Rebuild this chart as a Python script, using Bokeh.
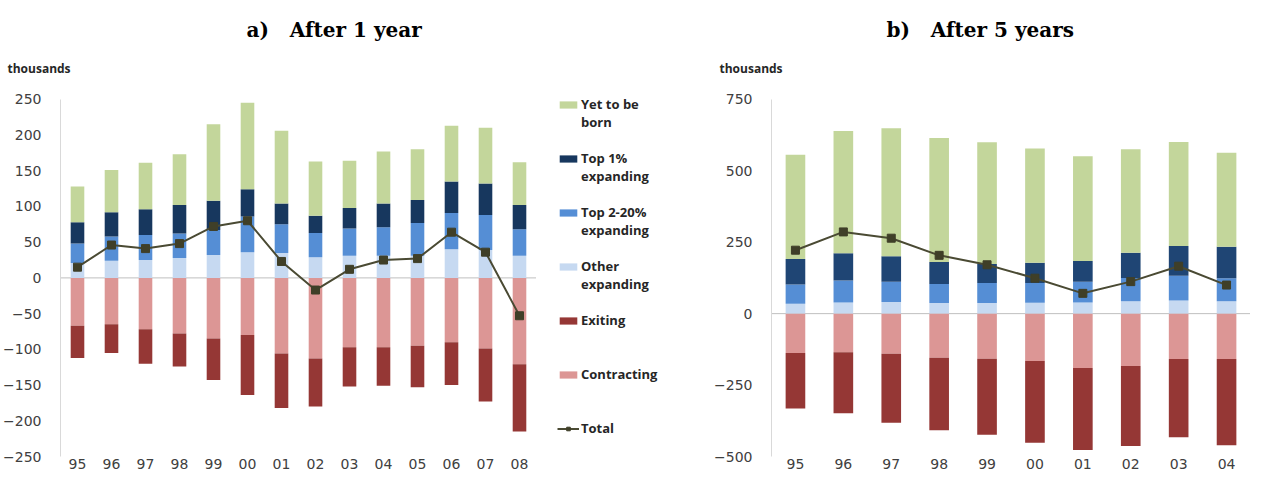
from bokeh.plotting import figure
from bokeh.layouts import row
from bokeh.models import (ColumnDataSource, FactorRange, Range1d, Span, Legend,
                          LegendItem, Title, FixedTicker)
from bokeh.embed import file_html
from bokeh.resources import INLINE

# ---------------- a) After 1 year ----------------
years_a = ["95", "96", "97", "98", "99", "00", "01", "02", "03", "04", "05", "06", "07", "08"]
other_a = [21, 24, 25, 28, 32, 36, 35, 29, 31, 31, 31, 40, 39, 31]
top2_20_a = [27, 34, 35, 34, 35, 50, 40, 34, 38, 40, 46, 51, 49, 37]
top1_a = [30, 34, 36, 40, 41, 38, 29, 24, 29, 33, 32, 44, 44, 34]
yet_born_a = [50, 59, 65, 71, 107, 121, 102, 76, 66, 73, 71, 78, 78, 60]
contracting_a = [-67, -65, -72, -78, -85, -80, -106, -113, -97, -97, -95, -90, -99, -121]
exiting_a = [-45, -40, -48, -46, -58, -84, -76, -67, -55, -54, -58, -60, -74, -94]
total_a = [15, 46, 41, 48, 72, 80, 23, -17, 12, 25, 27, 64, 36, -53]
ticks_a = [-250, -200, -150, -100, -50, 0, 50, 100, 150, 200, 250]

# ---------------- b) After 5 years ----------------
years_b = ["95", "96", "97", "98", "99", "00", "01", "02", "03", "04"]
other_b = [35, 39, 41, 37, 37, 38, 39, 43, 46, 43]
top2_20_b = [67, 77, 71, 67, 70, 69, 73, 82, 87, 81]
top1_b = [89, 95, 89, 77, 67, 71, 72, 88, 104, 110]
yet_born_b = [365, 428, 448, 434, 426, 400, 367, 362, 364, 329]
contracting_b = [-138, -135, -140, -154, -158, -166, -190, -183, -159, -159]
exiting_b = [-194, -214, -242, -254, -266, -286, -287, -280, -274, -302]
total_b = [222, 286, 264, 204, 171, 124, 71, 112, 166, 100]
ticks_b = [-500, -250, 0, 250, 500, 750]

# legend labels (blank first/last lines keep the swatch beside the first text line)
series_names = [" \nYet to be\nborn", " \nTop 1%\nexpanding", " \nTop 2-20%\nexpanding",
                " \nOther\nexpanding", " \nExiting\n ", " \nContracting\n ", " \nTotal\n "]

C_YET = "#C3D69B"
C_TOP1 = "#17375E"
C_TOP2 = "#558ED5"
C_OTHER = "#C6D9F1"
C_EXIT = "#953735"
C_CONTR = "#DC9695"
C_TOTAL = "#3F3F28"
C_LINE = "#4A4A33"

TICK_FONT = "DejaVu Sans"


def draw_series(p, src, bar_w, navy, visible=True):
    pos = p.vbar_stack(["other", "top2", "top1", "yet"], x="year", width=bar_w,
                       color=[C_OTHER, C_TOP2, navy, C_YET], line_color=None,
                       source=src, visible=visible)
    neg = p.vbar_stack(["contr", "exitg"], x="year", width=bar_w,
                       color=[C_CONTR, C_EXIT], line_color=None, source=src,
                       visible=visible)
    ln = p.line(x="year", y="total", source=src, line_color=C_LINE, line_width=2,
                visible=visible)
    sc = p.scatter(x="year", y="total", source=src, marker="square", size=8,
                   fill_color=C_TOTAL, line_color=C_TOTAL, visible=visible)
    return pos, neg, ln, sc


def build(src, years, ticks, view, width, bl, br, bar_w, title_text,
          title_off, th_off, navy):
    # the view extends a little above the top tick so that the legend panel,
    # whose frame is aligned with this one, has room for its first entry
    p = figure(x_range=FactorRange(factors=years, range_padding=0),
               y_range=Range1d(view[0], view[1]),
               width=width, height=471, title=None,
               output_backend="svg", toolbar_location=None,
               min_border_left=bl, min_border_right=br,
               min_border_top=67, min_border_bottom=0)
    p.outline_line_color = None
    p.background_fill_color = "white"
    p.border_fill_color = "white"
    p.xgrid.visible = False
    p.ygrid.visible = False

    p.add_layout(Span(location=0, dimension="width", line_color="#BFBFBF",
                      line_width=1, level="underlay"))
    draw_series(p, src, bar_w, navy)

    # axes
    p.xaxis.axis_line_color = None
    p.xaxis.major_tick_line_color = None
    p.xaxis.minor_tick_line_color = None
    p.xaxis.major_tick_out = 0
    p.xaxis.major_tick_in = 0
    p.xaxis.major_label_standoff = 2
    p.xaxis.major_label_text_font = TICK_FONT
    p.xaxis.major_label_text_font_size = "14px"
    p.xaxis.major_label_text_color = "#404040"

    p.yaxis.ticker = FixedTicker(ticks=ticks)
    p.yaxis.bounds = (ticks[0], ticks[-1])
    p.yaxis.axis_line_color = "#D9D9D9"
    p.yaxis.major_tick_line_color = None
    p.yaxis.minor_tick_line_color = None
    p.yaxis.major_tick_out = 0
    p.yaxis.major_tick_in = 0
    p.yaxis.major_label_standoff = 19
    p.yaxis.major_label_text_font = TICK_FONT
    p.yaxis.major_label_text_font_size = "14px"
    p.yaxis.major_label_text_color = "#404040"

    p.add_layout(Title(text="thousands", align="left", offset=th_off, standoff=2,
                       text_font="Open Sans", text_font_style="bold",
                       text_font_size="12px", text_color="#262626"), "above")
    p.add_layout(Title(text=title_text, align="left", offset=title_off, standoff=30,
                       text_font="DejaVu Serif", text_font_style="bold",
                       text_font_size="20px", text_color="black"), "above")
    return p


src_a = ColumnDataSource(dict(year=years_a, other=other_a, top2=top2_20_a, top1=top1_a,
                              yet=yet_born_a, contr=contracting_a, exitg=exiting_a,
                              total=total_a))
src_b = ColumnDataSource(dict(year=years_b, other=other_b, top2=top2_20_b, top1=top1_b,
                              yet=yet_born_b, contr=contracting_b, exitg=exiting_b,
                              total=total_b))

pa = build(src_a, years_a, ticks_a, (-250, 280.5), 536, 53, 0, 0.4,
           "a)\u00a0\u00a0\u00a0After 1 year", 186, -53, C_TOP1)

# ---- legend panel for panel a): hidden copies of the series supply the keys ----
pl = figure(width=164, height=471, x_range=FactorRange(factors=years_a),
            y_range=Range1d(-250, 280.5),
            x_axis_type=None, y_axis_type=None, title=None,
            output_backend="svg", toolbar_location=None,
            min_border_left=0, min_border_right=0, min_border_top=0, min_border_bottom=0)
pl.outline_line_color = None
pl.border_fill_color = "white"
pl.background_fill_color = "white"
pl.xgrid.visible = False
pl.ygrid.visible = False
k_pos, k_neg, k_ln, k_sc = draw_series(pl, src_a, 0.4, C_TOP1, visible=False)

legend = Legend(items=[
    LegendItem(label=series_names[0], renderers=[k_pos[3]]),
    LegendItem(label=series_names[1], renderers=[k_pos[2]]),
    LegendItem(label=series_names[2], renderers=[k_pos[1]]),
    LegendItem(label=series_names[3], renderers=[k_pos[0]]),
    LegendItem(label=series_names[4], renderers=[k_neg[1]]),
    LegendItem(label=series_names[5], renderers=[k_neg[0]]),
    LegendItem(label=series_names[6], renderers=[k_ln, k_sc]),
], location=(21, 1), orientation="vertical", margin=0, padding=0, spacing=0,
    glyph_width=22, glyph_height=9, label_standoff=2,
    label_text_font="Open Sans", label_text_font_style="bold",
    label_text_font_size="13px", label_text_color="#262626",
    label_text_line_height=1.313, border_line_color=None,
    background_fill_alpha=0, inactive_fill_alpha=0)
pl.add_layout(legend)

pb = build(src_b, years_b, ticks_b, (-500, 826.4), 550, 71, 0, 0.41,
           "b)\u00a0\u00a0\u00a0After 5 years", 115, -52, "#1F4574")

layout = row(pa, pl, pb)
open("out.html", "w").write(file_html(layout, INLINE))
